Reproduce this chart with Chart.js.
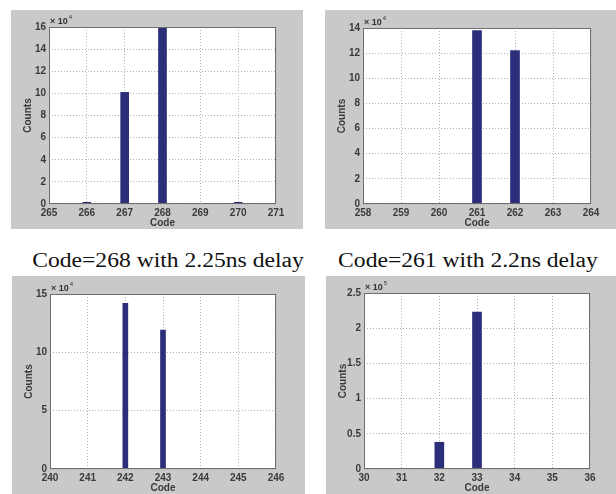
<!DOCTYPE html>
<html>
<head>
<meta charset="utf-8">
<script src="https://cdn.jsdelivr.net/npm/chart.js@4/dist/chart.umd.min.js"></script>
<style>
  html, body { margin: 0; padding: 0; background: #fff; }
  body { width: 616px; height: 494px; position: relative; overflow: hidden; }
  canvas { position: absolute; }
  .cap {
    position: absolute; width: 300px; text-align: center;
    font: 20px/20px "Liberation Serif", "Times New Roman", serif; color: #111;
    transform: scaleX(1.18); transform-origin: center; white-space: nowrap;
  }
</style>
</head>
<body>
<canvas id="c1"></canvas>
<canvas id="c2"></canvas>
<canvas id="c3"></canvas>
<canvas id="c4"></canvas>
<div class="cap" id="cap1" style="left:18px; top:250px;"></div>
<div class="cap" id="cap2" style="left:318px; top:250px;"></div>
<script>
/* ─── data ─── */
const tlCodes = [266, 267, 268, 270];
const tlCounts = [1500, 101000, 160000, 1500];
const trCodes = [261, 262];
const trCounts = [138000, 122000];
const blCodes = [242, 243];
const blCounts = [142000, 119000];
const brCodes = [32, 33];
const brCounts = [38000, 223000];

const tlRange = [265, 271];
const trRange = [258, 264];
const blRange = [240, 246];
const brRange = [30, 36];

const tlYTicks = [0, 2, 4, 6, 8, 10, 12, 14, 16];   // x 10^4
const trYTicks = [0, 2, 4, 6, 8, 10, 12, 14];       // x 10^4
const blYTicks = [0, 5, 10, 15];                    // x 10^4
const brYTicks = [0, 0.5, 1, 1.5, 2, 2.5];          // x 10^5

const captions = ['Code=268 with 2.25ns delay', 'Code=261 with 2.2ns delay'];

/* ─── frame + exponent ─── */
const framePlugin = {
  id: 'frame',
  beforeDraw(chart) {
    const { ctx, chartArea: a } = chart;
    ctx.save();
    ctx.fillStyle = '#c9c9c9';
    ctx.fillRect(0, 0, chart.width, chart.height);
    ctx.fillStyle = '#fff';
    ctx.fillRect(a.left, a.top, a.right - a.left, a.bottom - a.top);
    ctx.restore();
  },
  afterDraw(chart, args, opts) {
    const { ctx, chartArea: a } = chart;
    ctx.save();
    ctx.strokeStyle = '#6e6e6e';
    ctx.lineWidth = 1;
    ctx.strokeRect(Math.round(a.left) + 0.5, Math.round(a.top) + 0.5,
      Math.round(a.right - a.left) - 1, Math.round(a.bottom - a.top) - 1);
    ctx.fillStyle = '#333';
    ctx.font = 'bold 9px "Liberation Sans", Arial, sans-serif';
    ctx.textBaseline = 'alphabetic';
    const base = '\u00d7 10';
    ctx.fillText(base, a.left + 1, a.top - 3);
    const w = ctx.measureText(base).width;
    ctx.font = '6px "Liberation Sans", Arial, sans-serif';
    ctx.fillText(opts.exp, a.left + 2 + w, a.top - 8);
    ctx.restore();
  }
};

const tickFont = { family: '"Liberation Sans", Arial, sans-serif', size: 10, weight: 'bold' };

function makeChart(id, box, codes, counts, range, yTicks, scale, exp, barW, pad) {
  const cv = document.getElementById(id);
  cv.width = box.w; cv.height = box.h;
  cv.style.left = box.x + 'px'; cv.style.top = box.y + 'px';
  new Chart(cv, {
    type: 'bar',
    data: {
      datasets: [{
        data: codes.map((c, i) => ({ x: c, y: counts[i] })),
        backgroundColor: '#2b2e78',
        borderWidth: 0,
        barThickness: barW
      }]
    },
    options: {
      responsive: false,
      animation: false,
      layout: { padding: pad },
      plugins: { legend: { display: false }, tooltip: { enabled: false }, frame: { exp: exp } },
      scales: {
        x: {
          type: 'linear', min: range[0], max: range[1], offset: false,
          grid: { offset: false, color: '#b0b0b0', drawTicks: false },
          border: { display: false, dash: [1, 2] },
          ticks: { stepSize: 1, padding: 3, color: '#3a3a3a', font: tickFont, maxRotation: 0 },
          title: { display: true, text: 'Code', color: '#3a3a3a', font: tickFont, padding: { top: 0, bottom: 0 } },
          afterFit: s => { s.height = 25; }
        },
        y: {
          min: 0, max: yTicks[yTicks.length - 1] * scale,
          grid: { color: '#b0b0b0', drawTicks: false },
          border: { display: false, dash: [1, 2] },
          afterBuildTicks: s => { s.ticks = yTicks.map(v => ({ value: v * scale })); },
          ticks: { padding: 3, color: '#3a3a3a', font: tickFont, callback: v => String(+(v / scale).toFixed(2)) },
          title: { display: true, text: 'Counts', color: '#3a3a3a', font: tickFont, padding: { top: 11, bottom: 0 } },
          afterFit: s => { s.width = 38; }
        }
      }
    },
    plugins: [framePlugin]
  });
}

makeChart('c1', { x: 11, y: 10, w: 292, h: 219 }, tlCodes, tlCounts, tlRange, tlYTicks, 1e4, '4', 8,
  { left: 0, top: 17, right: 27, bottom: 0 });
makeChart('c2', { x: 325, y: 10, w: 291, h: 219 }, trCodes, trCounts, trRange, trYTicks, 1e4, '4', 9,
  { left: 0, top: 18, right: 25, bottom: 0 });
makeChart('c3', { x: 12, y: 276, w: 293, h: 218 }, blCodes, blCounts, blRange, blYTicks, 1e4, '4', 5,
  { left: 0, top: 18, right: 29, bottom: 0 });
makeChart('c4', { x: 326, y: 276, w: 290, h: 218 }, brCodes, brCounts, brRange, brYTicks, 1e5, '5', 9,
  { left: 0, top: 17, right: 26, bottom: 0 });

document.getElementById('cap1').textContent = captions[0];
document.getElementById('cap2').textContent = captions[1];
</script>
</body>
</html>
